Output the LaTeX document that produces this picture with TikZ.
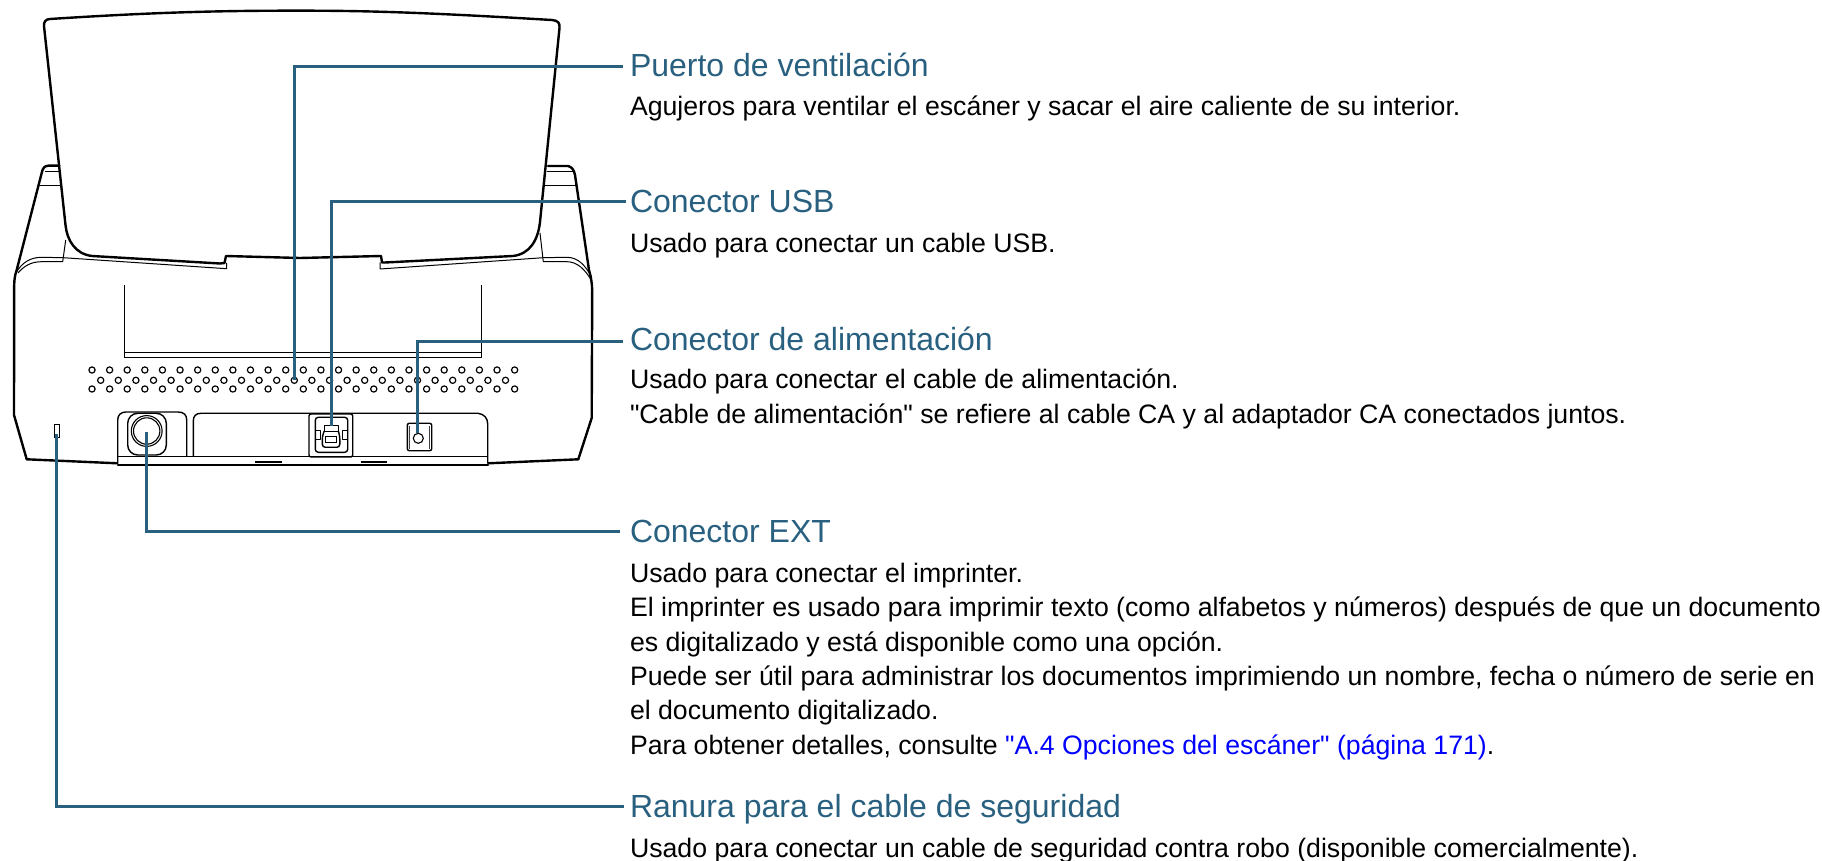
\documentclass[tikz,border=0pt]{standalone}
\usepackage{fontspec}
\setmainfont{Liberation Sans}
\newfontfamily\scanfont{Liberation Sans}
\usetikzlibrary{calc}
\definecolor{leadblue}{HTML}{29607F}
\definecolor{linkblue}{HTML}{0000FF}
\tikzset{
  thickline/.style={draw=black,line width=1.2pt,line join=round,line cap=round},
  thinline/.style={draw=black,line width=0.5pt,line join=round},
  midline/.style={draw=black,line width=0.7pt,line join=round},
  hole/.style={circle,draw=black,line width=0.6pt,minimum size=3.1pt,inner sep=0pt,outer sep=0pt},
  spot/.style={circle,inner sep=0pt,minimum size=0pt,outer sep=0pt},
  leader/.style={draw=leadblue,line width=1.5pt,line join=miter},
  titletext/.style={anchor=base west,inner sep=0pt,outer sep=0pt,text=leadblue,font=\scanfont\fontsize{16}{18}\selectfont},
  bodytext/.style={anchor=base west,inner sep=0pt,outer sep=0pt,align=left,text=black,font=\scanfont\fontsize{13.34}{17.2}\selectfont},
}
\begin{document}
\begin{tikzpicture}[x=0.5pt,y=-0.5pt]
\useasboundingbox (0,0) rectangle (1822,861);
% paper tray
\path[thickline] (50,19) .. controls (150,12.5) and (220,10.5) .. (300,10.7)
  .. controls (380,10.5) and (450,14) .. (552,20)
  .. controls (558,20.5) and (560,23) .. (559.5,28) -- (540,222)
  .. controls (538,240) and (530,254) .. (513,256) -- (385,262.5) -- (382,262.5) -- (381,256)
  -- (300,258) -- (226,256) -- (224.5,263) -- (220,263.5) -- (92,256)
  .. controls (75,254) and (67,240) .. (65.5,225) -- (44,26)
  .. controls (43.5,22) and (46,19) .. (50,19) -- cycle;
% body outline
\path[thickline] (59.3,165.7) -- (48.3,165.7) .. controls (44,165.7) and (42.5,169) .. (41.7,173)
  -- (16.7,270) .. controls (15,275) and (14.3,279) .. (14.2,285) -- (14,415) -- (26.7,459.3) -- (117.3,463.3);
\path[thickline] (548,166) -- (568,166) .. controls (572,167) and (574,170) .. (575,175)
  -- (589,270) .. controls (591,277) and (592,283) .. (592.2,290) -- (591.7,418) -- (578.3,459.3) -- (488.3,463.3);
\path[thinline] (45,171.7) -- (59.8,171.7) (39.3,186) -- (61,186);
\path[thinline] (546.7,172) -- (574,172) (545,185.3) -- (575.5,185.3);
% body top edge
\path[thinline] (16.7,271.7) .. controls (22,263) and (30,257.3) .. (41.7,257.3) -- (63.3,257.7) -- (226.7,268.7) -- (226.7,263);
\path[thinline] (18,273) .. controls (24,266) and (31,261.7) .. (41.7,261.7) -- (62.7,261.7) -- (65.7,240);
\path[thinline] (591.7,277) .. controls (585,265) and (578,257.3) .. (566.7,257.3) -- (543.3,257.7) -- (380,269) -- (380,262.5);
\path[thinline] (591.7,281) .. controls (585,269) and (577,261.7) .. (566.7,261.7) -- (543.3,261.7) -- (540,233);
% inner panel
\path[midline] (124.3,285) -- (124.3,357.3) -- (481.7,357.3) -- (481.7,285) (124.3,352.7) -- (481.7,352.7);
% vent holes
\foreach \i in {0,...,24} {
  \node[hole] (ventA\i) at ({92+17.61*\i},370) {};
  \node[hole] (ventC\i) at ({92+17.61*\i},389) {};
}
\foreach \i in {0,...,23} {
  \node[hole] (ventB\i) at ({100.7+17.6*\i},380.3) {};
}
% security slot
\node[draw=black,line width=0.5pt,inner sep=0pt,outer sep=0pt,minimum width=2.5pt,minimum height=6.7pt] (slot) at (56.8,431) {};
\node[spot] (slotend) at (56.3,434) {};
% base bar
\path[midline] (117.7,463) -- (117.7,420) .. controls (117.7,415) and (121,412) .. (126,412) -- (178,412)
  .. controls (184,412) and (186.7,415) .. (186.7,420) -- (186.7,456.7);
\path[midline] (117.7,456.7) -- (487.7,456.7);
\path[midline] (193.3,456.7) -- (193.3,421) .. controls (193.3,416) and (196,413.3) .. (201,413.3) -- (478,413.3)
  .. controls (484,414) and (487.7,418) .. (487.7,424) -- (487.7,463);
\path[thickline] (118,465) -- (488,465);
\path[draw=black,line width=0.9pt] (255,462.3) -- (281.7,462.3) (360.7,462.3) -- (386.7,462.3);
% EXT connector
\draw[midline,rounded corners=5pt] (127.7,413.3) rectangle (166.3,455);
\node[circle,draw=black,line width=0.55pt,minimum size=15.4pt,inner sep=0pt,outer sep=0pt] (extouter) at (146.7,431) {};
\node[circle,draw=black,line width=0.55pt,minimum size=13.2pt,inner sep=0pt,outer sep=0pt] (extport) at (146.7,431) {};
% USB connector
\draw[midline,rounded corners=1pt] (309,414) rectangle (352.7,457);
\draw[midline,rounded corners=1.5pt] (315.3,417.3) rectangle (347.7,452.3);
\path[thinline] (315.7,430.7) rectangle (320,439.3) (342.7,430.7) rectangle (347.3,439.3);
\path[thinline] (324.3,425.7) rectangle (338.3,431.7);
\path[midline,rounded corners=1.5pt] (324.3,431) -- (322.3,436) -- (322.3,447.3) -- (339.8,447.3) -- (339.8,436) -- (338.3,431);
\node[draw=black,line width=0.5pt,inner sep=0pt,outer sep=0pt,minimum width=5.1pt,minimum height=3pt] (usbport) at (331,439.7) {};
\node[spot] (usbend) at (331,426) {};
% power connector
\draw[midline,rounded corners=1pt] (407.3,423.3) rectangle (431.7,450.7);
\draw[draw=black!75,line width=0.9pt] (409.5,426) -- (409.5,449) (429.5,426) -- (429.5,449);
\node[circle,draw=black,line width=0.55pt,minimum size=5pt,inner sep=0pt,outer sep=0pt] (powerport) at (418.3,438.3) {};
\node[spot] (powerend) at (417.3,433) {};
\node[spot] (extend) at (146.3,431.7) {};
% texts
\node[titletext] (t1) at (630,76.7) {Puerto de ventilación};
\node[bodytext] (b1) at (630,116) {Agujeros para ventilar el escáner y sacar el aire caliente de su interior.};
\node[titletext] (t2) at (630,213) {Conector USB};
\node[bodytext] (b2) at (630,252.7) {Usado para conectar un cable USB.};
\node[titletext] (t3) at (630,351) {Conector de alimentación};
\node[bodytext] (b3) at (630,423.2) {Usado para conectar el cable de alimentación.\\"Cable de alimentación" se refiere al cable CA y al adaptador CA conectados juntos.};
\node[titletext] (t4) at (630,542.7) {Conector EXT};
\node[bodytext] (b4) at (630,754.3) {Usado para conectar el imprinter.\\El imprinter es usado para imprimir texto (como alfabetos y números) después de que un documento\\es digitalizado y está disponible como una opción.\\Puede ser útil para administrar los documentos imprimiendo un nombre, fecha o número de serie en\\el documento digitalizado.\\Para obtener detalles, consulte \textcolor{linkblue}{"A.4 Opciones del escáner" (página 171)}.};
\node[titletext] (t5) at (630,817.7) {Ranura para el cable de seguridad};
\node[bodytext] (b5) at (630,857.2) {Usado para conectar un cable de seguridad contra robo (disponible comercialmente).};
% leaders
\draw[leader] (ventB11.center) |- ([shift={(-7.3,-9.7)}]t1.base west);
\draw[leader] (usbend.center) |- ([shift={(-4.3,-11.7)}]t2.base west);
\draw[leader] (powerend.center) |- ([shift={(-7.3,-9.3)}]t3.base west);
\draw[leader] (extend.center) |- ([shift={(-10,-11.7)}]t4.base west);
\draw[leader] (slotend.center) |- ([shift={(-6,-11)}]t5.base west);
\end{tikzpicture}
\end{document}
